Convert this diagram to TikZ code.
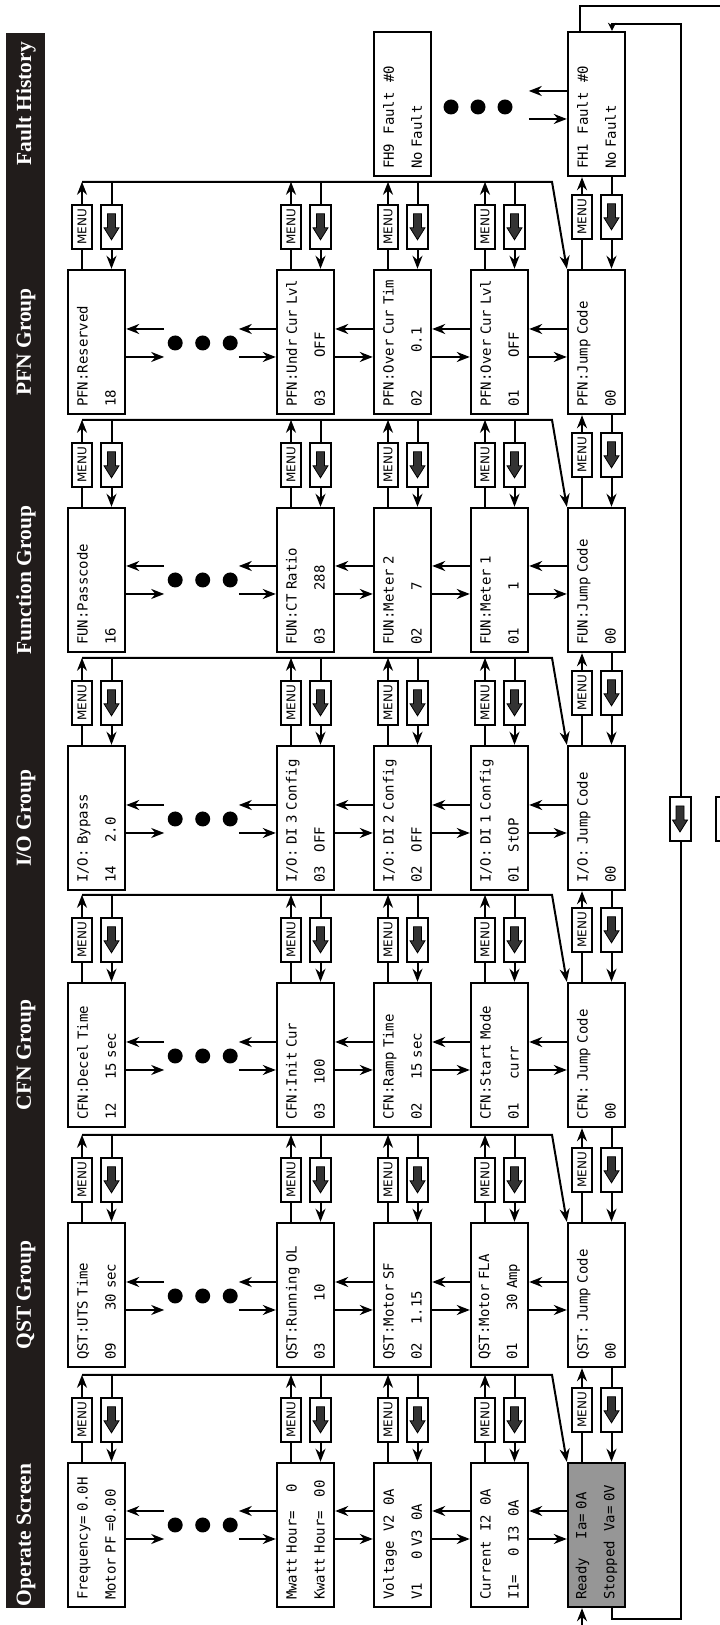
\documentclass[tikz,border=0pt]{standalone}
\usepackage{fontspec}
\setmainfont{Liberation Serif}
\newfontfamily\lcdfont{DejaVu Sans Mono}
\newfontfamily\keyfont{DejaVu Sans}
\usetikzlibrary{arrows.meta,calc}
\definecolor{barBlack}{RGB}{33,28,27}
\definecolor{readyGray}{RGB}{150,150,150}
\tikzset{dnarrow/.pic={\filldraw[fill=black!80, line width=0.8pt]
  (13,4) -- (-1,4) -- (-1,7.5) -- (-13,0) -- (-1,-7.5) -- (-1,-4) -- (13,-4) -- cycle;}}

\begin{document}
\begin{tikzpicture}[x=1pt,y=1pt,rotate=90,transform shape,
    screen/.style={draw, line width=2.4pt, fill=white, inner sep=0pt,
      minimum width=144pt, minimum height=57pt, text width=130pt, align=left,
      font=\lcdfont\fontsize{14}{28}\selectfont},
    menukey/.style={draw, line width=2pt, fill=white, inner sep=0pt,
      minimum width=44pt, minimum height=20pt,
      font=\keyfont\fontsize{12}{12}\selectfont},
    downkey/.style={menukey, minimum height=21pt},
    flow/.style={line width=2pt, -{Stealth[length=13pt,width=10pt]}},
    smallflow/.style={line width=2pt, -{Stealth[length=8pt,width=8pt]}},
    elldot/.style={circle, fill=black, minimum size=15pt, inner sep=0pt},
    grouphead/.style={text=white, font=\bfseries\fontsize{21.5}{22}\selectfont}
  ]
  \useasboundingbox (0,0) rectangle (1625,-720);

  % header bar
  \fill[barBlack] (17,-6) rectangle (1592,-45);
  \node[grouphead] (hop)  at (90,-26)   {Operate Screen};
  \node[grouphead] (hqst) at (330,-26)  {QST Group};
  \node[grouphead] (hcfn) at (570,-26)  {CFN Group};
  \node[grouphead] (hio)  at (807,-26)  {I/O Group};
  \node[grouphead] (hfun) at (1045,-26) {Function Group};
  \node[grouphead] (hpfn) at (1283,-26) {PFN Group};
  \node[grouphead] (hfh)  at (1521,-26) {Fault History};

  % operate screens
  \node[screen] (op1) at (90,-96.5)  {Frequency=~0.0H\\Motor~PF~=0.00};
  \node[screen] (op2) at (90,-305.5) {Mwatt~Hour=~~~~0\\Kwatt~Hour=~~~00};
  \node[screen] (op3) at (90,-402.5) {Voltage~~V2~~0A\\V1~~~~~0~V3~~0A};
  \node[screen] (op4) at (90,-499.5) {Current~~I2~~0A\\I1=~~~~0~I3~~0A};
  \node[screen,fill=readyGray] (op5) at (90,-596.5) {Ready~~~~Ia=~0A\\Stopped~~Va=~0V};

  % QST group
  \node[screen] (qst1) at (330,-96.5)  {QST:UTS~Time\\09~~~~~~~30~sec};
  \node[screen] (qst2) at (330,-305.5) {QST:Running~OL\\03~~~~~~~~~10};
  \node[screen] (qst3) at (330,-402.5) {QST:Motor~SF\\02~~~~1.15};
  \node[screen] (qst4) at (330,-499.5) {QST:Motor~FLA\\01~~~~~~~30~Amp};
  \node[screen] (qst5) at (330,-596.5) {QST:~Jump~Code\\00};

  % CFN group
  \node[screen] (cfn1) at (570,-96.5)  {CFN:Decel~Time\\12~~~~~15~sec};
  \node[screen] (cfn2) at (570,-305.5) {CFN:Init~Cur\\03~~~~100};
  \node[screen] (cfn3) at (570,-402.5) {CFN:Ramp~Time\\02~~~~~15~sec};
  \node[screen] (cfn4) at (570,-499.5) {CFN:Start~Mode\\01~~~~~curr};
  \node[screen] (cfn5) at (570,-596.5) {CFN:~Jump~Code\\00};

  % I/O group
  \node[screen] (io1) at (807,-96.5)  {I/O:~Bypass\\14~~~~~2.0};
  \node[screen] (io2) at (807,-305.5) {I/O:~DI~3~Config\\03~~~OFF};
  \node[screen] (io3) at (807,-402.5) {I/O:~DI~2~Config\\02~~~OFF};
  \node[screen] (io4) at (807,-499.5) {I/O:~DI~1~Config\\01~~~StOP};
  \node[screen] (io5) at (807,-596.5) {I/O:~Jump~Code\\00};

  % function group
  \node[screen] (fun1) at (1045,-96.5)  {FUN:Passcode\\16};
  \node[screen] (fun2) at (1045,-305.5) {FUN:CT~Ratio\\03~~~~~~~~288};
  \node[screen] (fun3) at (1045,-402.5) {FUN:Meter~2\\02~~~~~~~~7};
  \node[screen] (fun4) at (1045,-499.5) {FUN:Meter~1\\01~~~~~~~~1};
  \node[screen] (fun5) at (1045,-596.5) {FUN:Jump~Code\\00};

  % PFN group
  \node[screen] (pfn1) at (1283,-96.5)  {PFN:Reserved\\18};
  \node[screen] (pfn2) at (1283,-305.5) {PFN:Undr~Cur~Lvl\\03~~~~~~~OFF};
  \node[screen] (pfn3) at (1283,-402.5) {PFN:Over~Cur~Tim\\02~~~~~~~~0.1};
  \node[screen] (pfn4) at (1283,-499.5) {PFN:Over~Cur~Lvl\\01~~~~~~~OFF};
  \node[screen] (pfn5) at (1283,-596.5) {PFN:Jump~Code\\00};

  % fault history
  \node[screen] (fh3) at (1521,-402.5) {FH9~~Fault~~\#0\\No~Fault};
  \node[screen] (fh5) at (1521,-596.5) {FH1~~Fault~~\#0\\No~Fault};

  % scrolling inside each group
  \foreach \grp/\dx in {op/-4,qst/-15,cfn/-15,io/-15,fun/-14,pfn/-15}{
    \draw[flow] ($(\grp1.south)+(\dx,0)$) -- ($(\grp1.south)+(\dx,-38)$);
    \draw[flow] ($(\grp1.south)+(\dx+28,-38)$) -- ($(\grp1.south)+(\dx+28,0)$);
    \draw[flow] ($(\grp2.north)+(\dx,37)$) -- ($(\grp2.north)+(\dx,0)$);
    \draw[flow] ($(\grp2.north)+(\dx+28,0)$) -- ($(\grp2.north)+(\dx+28,37)$);
    \foreach \k in {1,2,3}
      \node[elldot] (\grp-dot\k) at ($(\grp1.south)+(\dx+14,{-49-27.5*(\k-1)})$) {};
    \foreach \ra/\rb in {2/3,3/4,4/5}{
      \draw[flow] ($(\grp\ra.south)+(\dx,0)$) -- ($(\grp\rb.north)+(\dx,0)$);
      \draw[flow] ($(\grp\rb.north)+(\dx+28,0)$) -- ($(\grp\ra.south)+(\dx+28,0)$);
    }
  }
  \foreach \k in {1,2,3}
    \node[elldot] (fh-dot\k) at (1518,{-451-27*(\k-1)}) {};
  \draw[flow] ($(fh5.north)+(-15,38)$) -- ($(fh5.north)+(-15,0)$);
  \draw[flow] ($(fh5.north)+(13,0)$) -- ($(fh5.north)+(13,38)$);

  % MENU and down keys between groups
  \foreach \lft/\rgt in {op/qst,qst/cfn,cfn/io,io/fun,fun/pfn,pfn/fh}{
    \foreach \ro in {1,2,3,4}{
      \coordinate (\lft-bus\ro) at ($(\lft\ro.east)+(87,14.5)$);
      \draw[flow] ($(\lft\ro.east)+(0,14.5)$) -- (\lft-bus\ro);
      \draw[flow] ($(\lft\ro.east)+(87,-15)$) -- ($(\lft\ro.east)+(0,-15)$);
    }
    \draw[flow] (\lft-bus1) -- ($(\lft5.east)+(87,44.5)$) -- (\lft5.north east);
    \draw[flow] ($(\lft5.east)+(0,14.5)$) -- ($(\rgt5.west)+(0,14.5)$);
    \draw[flow] ($(\rgt5.west)+(0,-15)$) -- ($(\lft5.east)+(0,-15)$);
    \foreach \ro in {1,2,3,4}{
      \node[menukey] (\lft-menu\ro) at ($(\lft\ro.east)+(42,14.5)$) {MENU};
      \node[downkey] (\lft-down\ro) at ($(\lft\ro.east)+(42,-15)$) {};
      \pic at (\lft-down\ro) {dnarrow};
    }
    \node[menukey] (\lft-menu5) at ($(\lft5.east)+(52,14.5)$) {MENU};
    \node[downkey] (\lft-down5) at ($(\lft5.east)+(52,-15)$) {};
    \pic at (\lft-down5) {dnarrow};
  }

  % return loops between Ready and FH1
  \draw[flow] ($(fh5.east)+(0,16.5)$) -- (1619,-580) -- (1619,-726)
    -- (-15,-726) -- (-15,-582) -- ($(op5.west)+(0,14.5)$);
  \draw[smallflow] ($(op5.west)+(0,-15.5)$) -- (6,-612) -- (6,-681)
    -- (1601,-681) -- (1601,-612) -- ($(fh5.east)+(0,-15.5)$);
  \node[downkey] (loopdown) at (806,-680) {};
  \pic at (loopdown) {dnarrow};
  \node[menukey] (loopmenu) at (806,-726) {MENU};
\end{tikzpicture}
\end{document}
